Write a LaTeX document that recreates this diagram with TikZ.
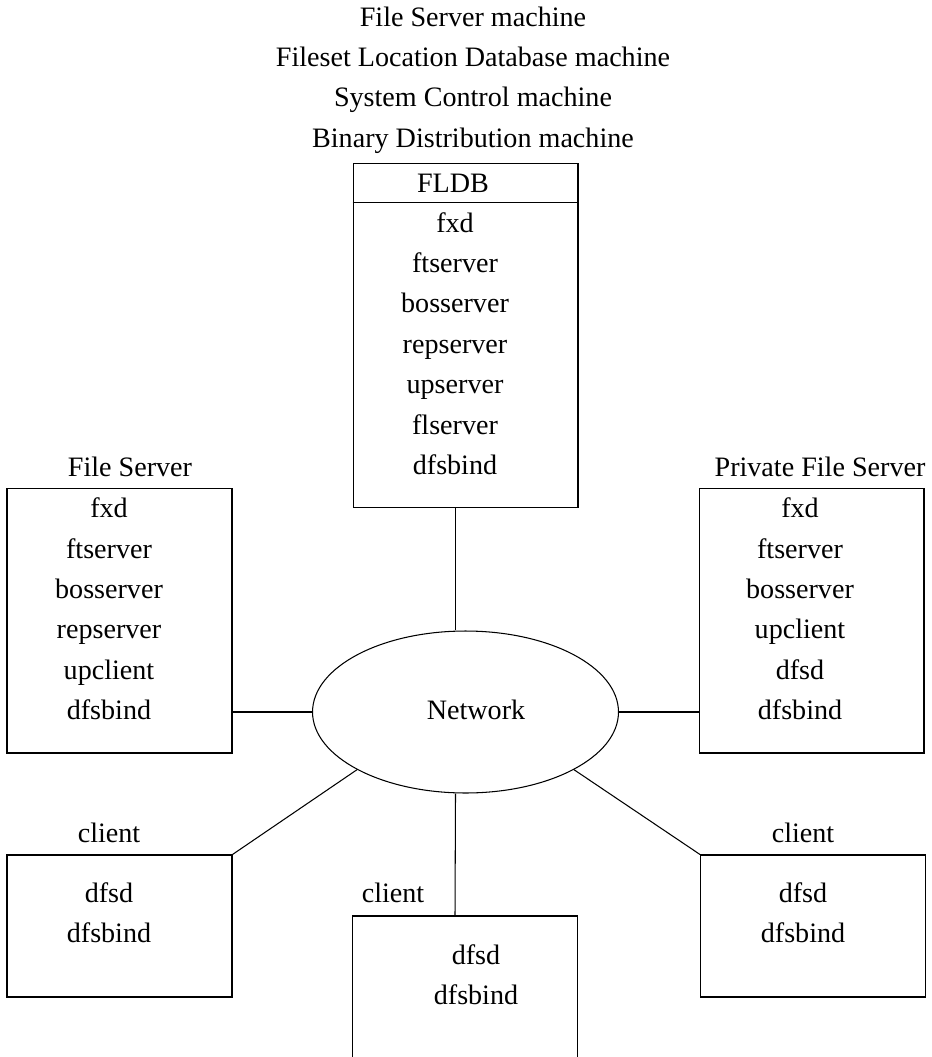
\documentclass[tikz,border=0pt]{standalone}
\usepackage{fontspec}
\setmainfont{Liberation Serif}
\usepackage{tikz}
\usetikzlibrary{shapes.geometric}

\begin{document}
\begin{tikzpicture}[
    x=0.02cm, y=-0.02cm,
    line width=0.6pt,
    box/.style={rectangle, draw, minimum width=4.5cm, inner sep=0pt},
    netshape/.style={ellipse, draw, minimum width=6.12cm, minimum height=3.24cm, inner sep=0pt},
    txt/.style={font=\fontsize{16}{23}\selectfont, align=center, inner sep=0pt}
]
\useasboundingbox (0,0) rectangle (932,1057);

% Roles of the top machine
\node[txt] (roles) at (473,80) {File Server machine\\Fileset Location Database machine\\System Control machine\\Binary Distribution machine};

% FLDB machine (top)
\node[box, minimum height=6.9cm] (fldb) at (465.5,335.5) {};
\draw ([yshift=-0.8cm]fldb.north west) -- ([yshift=-0.8cm]fldb.north east);
\node[txt] (fldbname) at (453,183) {FLDB};
\node[txt] (fldbproc) at (455,343.5) {fxd\\ftserver\\bosserver\\repserver\\upserver\\flserver\\dfsbind};

% File servers (left and right)
\node[box, minimum height=5.3cm] (fs) at (119.5,620.5) {};
\node[txt] (fsname) at (130,467) {File Server};
\node[txt] (fsproc) at (109,609) {fxd\\ftserver\\bosserver\\repserver\\upclient\\dfsbind};

\node[box, minimum height=5.3cm] (pfs) at (811.5,620.5) {};
\node[txt] (pfsname) at (820,467) {Private File Server};
\node[txt] (pfsproc) at (800,609) {fxd\\ftserver\\bosserver\\upclient\\dfsd\\dfsbind};

% Network
\node[netshape] (net) at (465.5,712) {};
\node[txt] (netname) at (476,710) {Network};

% Clients
\node[box, minimum height=2.84cm] (cl) at (119.5,926) {};
\node[txt] (clname) at (109,833) {client};
\node[txt] (clproc) at (109,913) {dfsd\\dfsbind};

\node[box, minimum height=3.0cm] (cm) at (465,991) {};
\node[txt] (cmname) at (393,893) {client};
\node[txt] (cmproc) at (476,974.5) {dfsd\\dfsbind};

\node[box, minimum height=2.84cm] (cr) at (813,926) {};
\node[txt] (crname) at (803,833) {client};
\node[txt] (crproc) at (803,913) {dfsd\\dfsbind};

% Links to the network
\draw ([xshift=-0.2cm]fldb.south) -- ([xshift=-0.2cm]net.north);
\draw (fs.east |- net.west) -- (net.west);
\draw (net.east) -- (pfs.west |- net.east);
\draw (cl.north east) -- (net.208);
\draw (cr.north west) -- (net.332);
\draw ([xshift=-0.2cm]net.south) -- ([xshift=-0.2cm]cm.north);

\end{tikzpicture}
\end{document}
